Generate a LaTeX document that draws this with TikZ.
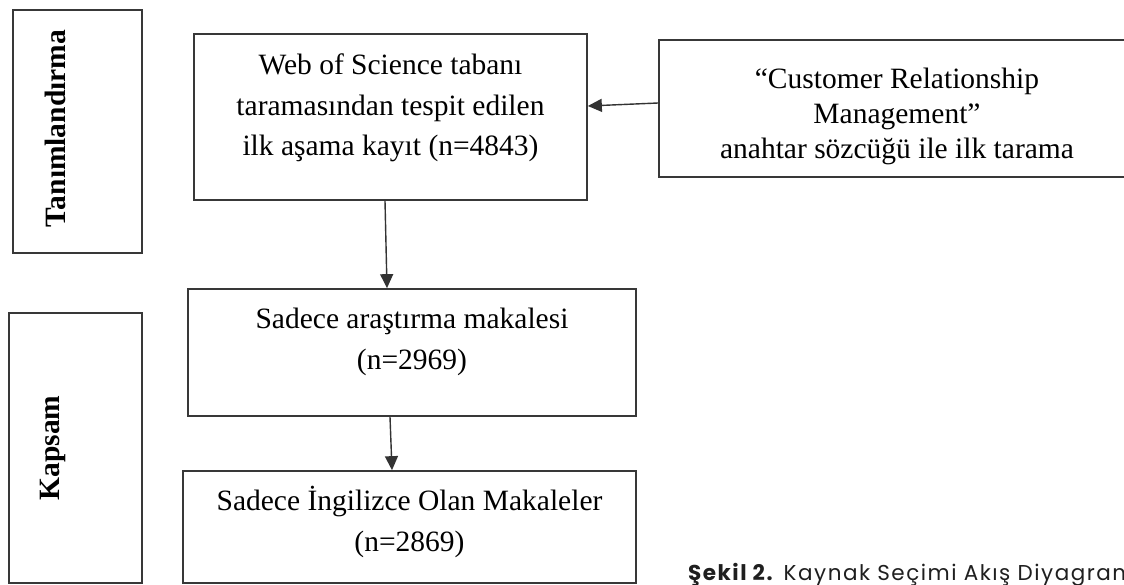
\documentclass[tikz,border=0pt]{standalone}
\usepackage{fontspec}
\setmainfont{Liberation Serif}
\newfontfamily\capfont[LetterSpace=7]{Poppins}
\usetikzlibrary{arrows.meta}
\begin{document}
\begin{tikzpicture}[x=1pt,y=-1pt,
  boxstyle/.style={draw=black!78, line width=1.7pt, rectangle, inner sep=0pt},
  txt/.style={inner sep=0pt, align=center, font=\fontsize{29.5}{40.5}\selectfont},
  sidetxt/.style={inner sep=0pt, rotate=90, font=\fontsize{29.5}{35}\selectfont\bfseries},
  conn/.style={draw=black!80, line width=1.4pt, -{Triangle[length=14pt,width=13pt]}}
]
\useasboundingbox (0,0) rectangle (1124,585);
\clip (0,0) rectangle (1124,585);
\fill[white] (0,0) rectangle (1124,585);

% side boxes
\node[boxstyle, minimum width=129pt, minimum height=243pt] (tanbox) at (77.5,131.5) {};
\node[sidetxt] (tantxt) at (55,128.5) {Tanımlandırma};
\node[boxstyle, minimum width=133pt, minimum height=270pt] (kapbox) at (75.5,448) {};
\node[sidetxt] (kaptxt) at (53,448) {Kapsam};

% main boxes
\node[boxstyle, minimum width=393pt, minimum height=166pt] (wos) at (390.5,117) {};
\node[txt] (wostxt) at (390.5,108) {Web of Science tabanı\\taramasından tespit edilen\\ilk aşama kayıt (n=4843)};

\node[boxstyle, minimum width=481pt, minimum height=137pt] (crm) at (899.5,108.5) {};
\node[txt, font=\fontsize{29.5}{35}\selectfont] (crmtxt) at (897,116) {“Customer Relationship\\Management”\\anahtar sözcüğü ile ilk tarama};

\node[boxstyle, minimum width=448pt, minimum height=127pt] (box2) at (412,352.5) {};
\node[txt] (box2txt) at (412,342) {Sadece araştırma makalesi\\(n=2969)};

\node[boxstyle, minimum width=453pt, minimum height=112pt] (box3) at (409.5,527) {};
\node[txt] (box3txt) at (409.5,522) {Sadece İngilizce Olan Makaleler\\(n=2869)};

% connectors
\draw[conn] ([yshift=5.5pt]crm.west) -- ([yshift=11pt]wos.east);
\draw[conn] ([xshift=-5.5pt]wos.south) -- ([xshift=-25pt]box2.north);
\draw[conn] ([xshift=-22pt]box2.south) -- ([xshift=-17.5pt]box3.north);

% caption
\node[anchor=base west, inner sep=0pt, font=\capfont\fontsize{21.5}{24}\selectfont, text=black!88] (caption) at (688,580) {\textbf{Şekil 2.} Kaynak Seçimi Akış Diyagramı};
\end{tikzpicture}
\end{document}
